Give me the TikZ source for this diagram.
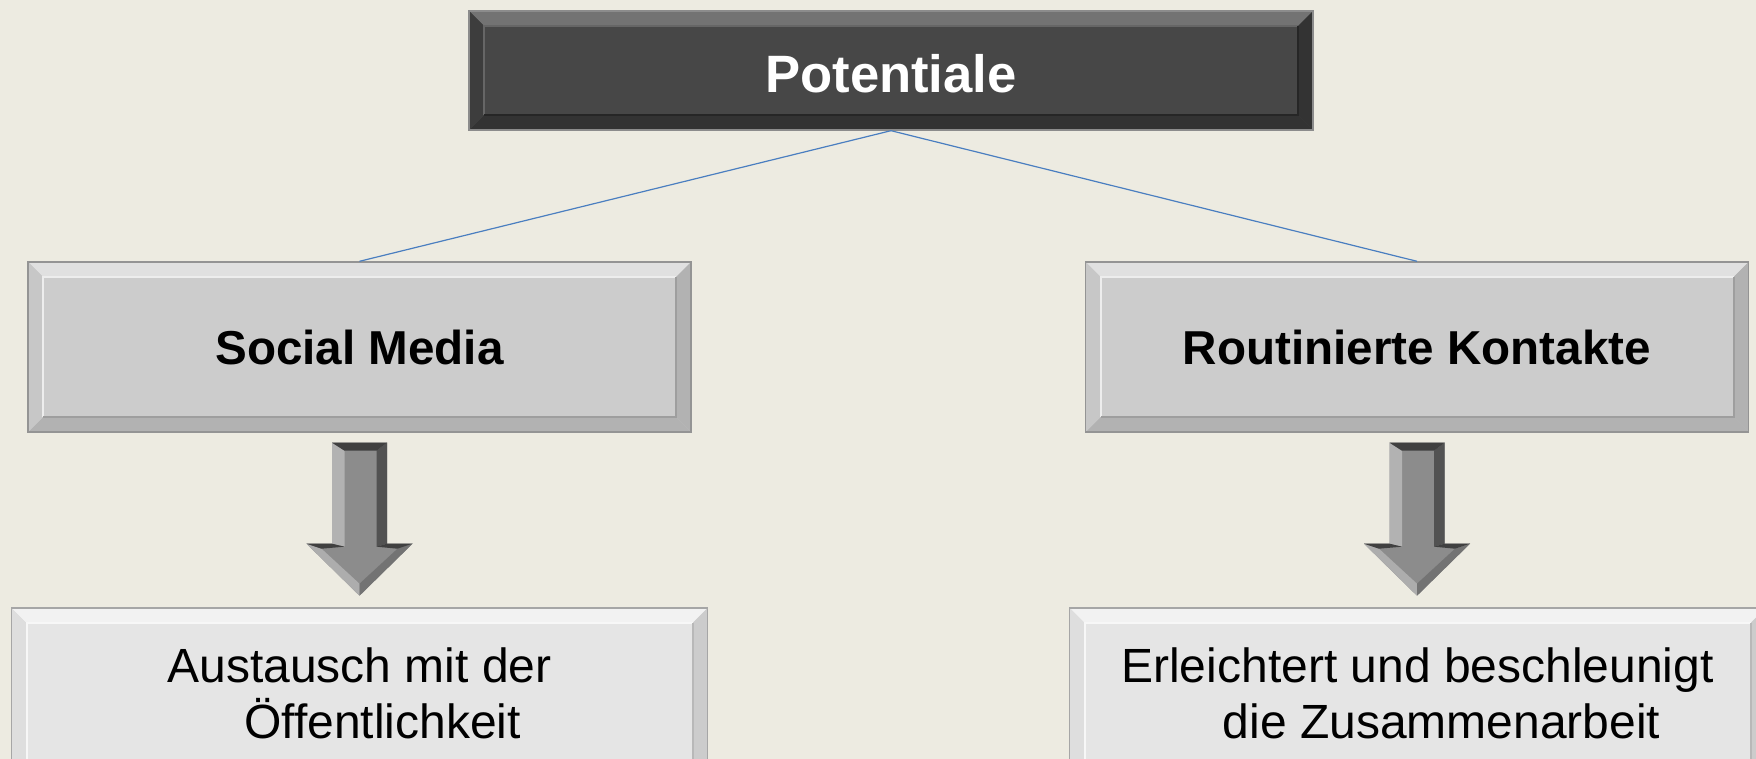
\documentclass[tikz,border=0pt]{standalone}
\usepackage{fontspec}
\setmainfont{Liberation Sans}
\usetikzlibrary{calc}
\definecolor{bg}{HTML}{EDEBE1}
\definecolor{linkblue}{HTML}{4A7EC0}
\tikzset{
  bevel/.style n args={7}{rectangle, inner sep=0pt, fill=#1, draw=#5, line width=0.7pt,
    path picture={
      \path (path picture bounding box.north west) coordinate (pA)
            (path picture bounding box.south east) coordinate (pB);
      \fill[#2] (pA) -- (pA -| pB) -- ($(pA -| pB)+(-7.5pt,-7.5pt)$) -- ($(pA)+(7.5pt,-7.5pt)$) -- cycle;
      \fill[#4] (pA |- pB) -- (pB) -- ($(pB)+(-7.5pt,7.5pt)$) -- ($(pA |- pB)+(7.5pt,7.5pt)$) -- cycle;
      \fill[#3] (pA) -- ($(pA)+(7.5pt,-7.5pt)$) -- ($(pA |- pB)+(7.5pt,7.5pt)$) -- (pA |- pB) -- cycle;
      \fill[#4] (pA -| pB) -- (pB) -- ($(pB)+(-7.5pt,7.5pt)$) -- ($(pA -| pB)+(-7.5pt,-7.5pt)$) -- cycle;
      \draw[#6, line width=1pt] ($(pA |- pB)+(7.5pt,7.5pt)$) -- ($(pA)+(7.5pt,-7.5pt)$) -- ($(pA -| pB)+(-7.5pt,-7.5pt)$);
      \draw[#7, line width=1pt] ($(pA -| pB)+(-7.5pt,-7.5pt)$) -- ($(pB)+(-7.5pt,7.5pt)$) -- ($(pA |- pB)+(7.5pt,7.5pt)$);
    }},
  topbox/.style={bevel={black!72}{black!55}{black!76}{black!80}{black!45}{black!60}{black!85},
    minimum width=422pt, minimum height=59.5pt, text=white, font=\fontsize{26.3pt}{30pt}\selectfont\bfseries},
  midbox/.style={bevel={black!20}{black!12}{black!22}{black!30}{black!42}{black!7}{black!38},
    minimum width=331.5pt, minimum height=85pt, font=\fontsize{23.8pt}{28pt}\selectfont\bfseries},
  lowbox/.style={bevel={black!10}{black!5}{black!13}{black!20}{black!35}{black!3}{black!28},
    minimum width=348pt, minimum height=85pt, align=center, font=\fontsize{24pt}{28pt}\selectfont},
  link/.style={draw=linkblue, line width=0.6pt},
  downarrow/.pic={
    \fill[black!45] (-27.5,0) -- (27.5,0) -- (27.5,101) -- (53,101) -- (0,153) -- (-53,101) -- (-27.5,101) -- cycle;
    \fill[black!30] (-27.5,0) -- (-15,8) -- (-15,104) -- (-27.5,101) -- cycle;
    \fill[black!68] (27.5,0) -- (17,8) -- (17,104) -- (27.5,101) -- cycle;
    \fill[black!75] (-27.5,0) -- (27.5,0) -- (17,8) -- (-15,8) -- cycle;
    \fill[black!32] (-53,101) -- (0,153) -- (0,141) -- (-38,106) -- cycle;
    \fill[black!55] (53,101) -- (0,153) -- (0,141) -- (38,106) -- cycle;
    \fill[black!75] (-53,101) -- (-27.5,101) -- (-15,104) -- (-38,106) -- cycle;
    \fill[black!75] (53,101) -- (27.5,101) -- (17,104) -- (38,106) -- cycle;
  }
}
\begin{document}
\begin{tikzpicture}[x=0.5pt,y=-0.5pt]
\fill[bg] (0,0) rectangle (1756,759);
\useasboundingbox (0,0) rectangle (1756,759);

\node[topbox, text depth=0pt] (top) at (891,70.5) {\raisebox{-3pt}{Potentiale}};
\node[midbox] (sm) at (359.5,347) {Social Media};
\node[midbox] (rk) at (1417,347) {Routinierte Kontakte};
\node[lowbox] (aus) at (359.5,693) {Austausch mit der\\\hspace*{23pt}Öffentlichkeit};
\node[lowbox] (erl) at (1417.5,693) {Erleichtert und beschleunigt\\\hspace*{24pt}die Zusammenarbeit};

\draw[link] (top.south) -- (sm.north);
\draw[link] (top.south) -- (rk.north);

\pic at ($(sm.south)+(0,10)$) {downarrow};
\pic at ($(rk.south)+(0,10)$) {downarrow};
\end{tikzpicture}
\end{document}
